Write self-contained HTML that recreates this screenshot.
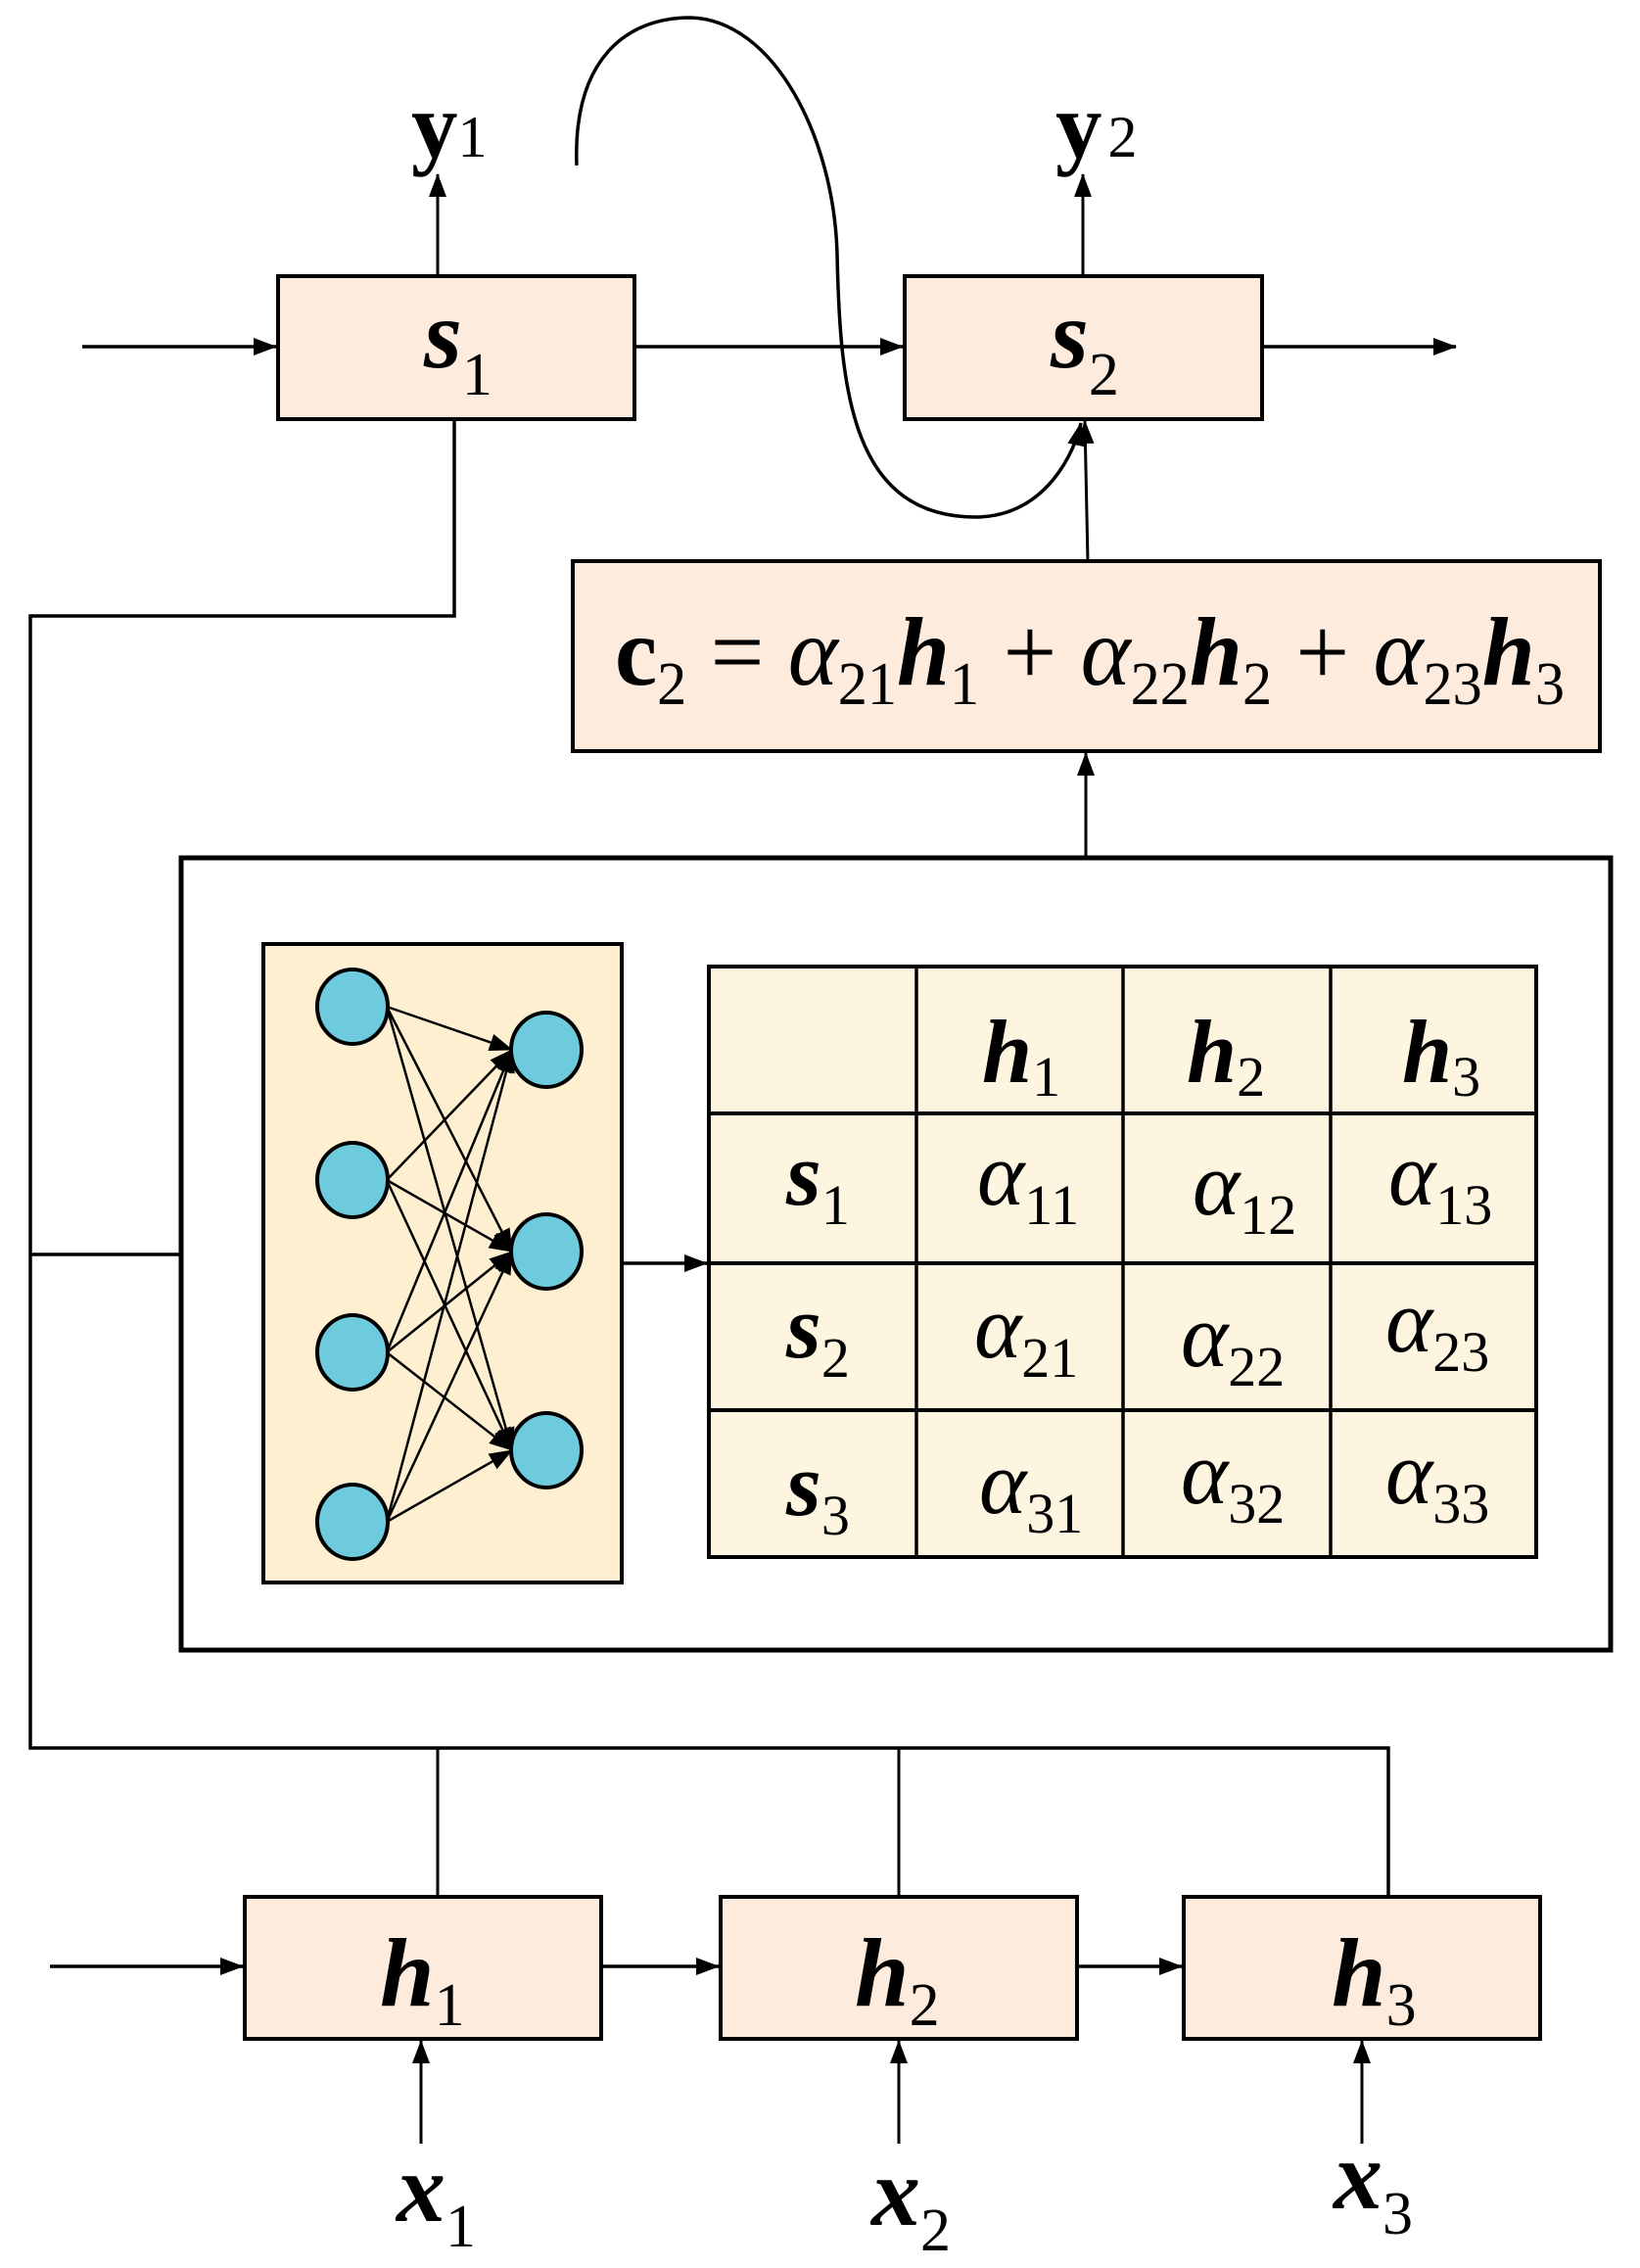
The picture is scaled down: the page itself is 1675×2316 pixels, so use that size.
<!DOCTYPE html>
<html><head><meta charset="utf-8"><style>
html,body{margin:0;padding:0;background:#fff}
svg{display:block}
text{font-family:"Liberation Serif",serif}
.b{font-weight:bold;font-style:italic}
.u{font-weight:bold}
.s{font-weight:normal;font-style:normal}
.a{font-style:italic}
</style></head><body>
<svg width="1675" height="2316" viewBox="0 0 1675 2316" xmlns="http://www.w3.org/2000/svg">
<defs>
<marker id="ar" markerWidth="10" markerHeight="10" refX="9" refY="5" orient="auto" markerUnits="userSpaceOnUse" viewBox="0 0 10 10">
<path d="M0,0 L10,5 L0,10 z" fill="#000"/></marker>
<marker id="ar2" markerWidth="24" markerHeight="18" refX="23" refY="9" orient="auto" markerUnits="userSpaceOnUse" viewBox="0 0 24 18">
<path d="M0,0 L24,9 L0,18 z" fill="#000"/></marker>
</defs>
<g stroke="#000" fill="none" stroke-width="3.5">
<!-- top boxes -->
<rect x="284" y="282" width="364" height="146" fill="#fdebdd" stroke-width="4"/>
<rect x="924" y="282" width="365" height="146" fill="#fdebdd" stroke-width="4"/>
<line x1="84" y1="354" x2="282" y2="354" marker-end="url(#ar2)"/>
<line x1="648" y1="354" x2="922" y2="354" marker-end="url(#ar2)"/>
<line x1="1289" y1="354" x2="1487" y2="354" marker-end="url(#ar2)"/>
<line x1="447" y1="282" x2="447" y2="178" stroke-width="3" marker-end="url(#ar2)"/>
<line x1="1106" y1="282" x2="1106" y2="178" stroke-width="3" marker-end="url(#ar2)"/>
<!-- curve -->
<path d="M589,169 C585,60 640,18 705,18 C790,20 852,140 855,260 C858,400 870,530 1000,528 C1070,525 1098,460 1104,432" stroke-width="3.5" marker-end="url(#ar2)"/>
<!-- c2 box -->
<rect x="585" y="573" width="1049" height="194" fill="#fdebdd" stroke-width="4"/>
<line x1="1111" y1="573" x2="1108" y2="430" stroke-width="3" marker-end="url(#ar2)"/>
<line x1="1109" y1="876" x2="1109" y2="769" stroke-width="3" marker-end="url(#ar2)"/>
<!-- big box -->
<rect x="185" y="876" width="1460" height="809" fill="#fff" stroke-width="5"/>
<!-- left connectors -->
<polyline points="464,428 464,629 31,629 31,1785 1418,1785 1418,1937" stroke-width="3.5"/>
<line x1="31" y1="1281" x2="185" y2="1281"/>
<line x1="447" y1="1785" x2="447" y2="1937" stroke-width="3"/>
<line x1="918" y1="1785" x2="918" y2="1937" stroke-width="3"/>
<!-- NN box -->
<rect x="269" y="964" width="366" height="652" fill="#fdefcf" stroke-width="4"/>
<g stroke-width="2.5">
<line x1="395" y1="1028" x2="523" y2="1072" marker-end="url(#ar2)"/>
<line x1="395" y1="1028" x2="523" y2="1278" marker-end="url(#ar2)"/>
<line x1="395" y1="1028" x2="523" y2="1481" marker-end="url(#ar2)"/>
<line x1="395" y1="1205" x2="523" y2="1072" marker-end="url(#ar2)"/>
<line x1="395" y1="1205" x2="523" y2="1278" marker-end="url(#ar2)"/>
<line x1="395" y1="1205" x2="523" y2="1481" marker-end="url(#ar2)"/>
<line x1="395" y1="1381" x2="523" y2="1072" marker-end="url(#ar2)"/>
<line x1="395" y1="1381" x2="523" y2="1278" marker-end="url(#ar2)"/>
<line x1="395" y1="1381" x2="523" y2="1481" marker-end="url(#ar2)"/>
<line x1="395" y1="1554" x2="523" y2="1072" marker-end="url(#ar2)"/>
<line x1="395" y1="1554" x2="523" y2="1278" marker-end="url(#ar2)"/>
<line x1="395" y1="1554" x2="523" y2="1481" marker-end="url(#ar2)"/>
</g>
<g fill="#6ecbdd" stroke-width="4">
<ellipse cx="360" cy="1028" rx="36" ry="38"/>
<ellipse cx="360" cy="1205" rx="36" ry="38"/>
<ellipse cx="360" cy="1381" rx="36" ry="38"/>
<ellipse cx="360" cy="1554" rx="36" ry="38"/>
<ellipse cx="558" cy="1072" rx="36" ry="38"/>
<ellipse cx="558" cy="1278" rx="36" ry="38"/>
<ellipse cx="558" cy="1481" rx="36" ry="38"/>
</g>
<line x1="635" y1="1290" x2="722" y2="1290" marker-end="url(#ar2)"/>
<!-- table -->
<rect x="724" y="987" width="845" height="603" fill="#fdf5df" stroke-width="4"/>
<line x1="936" y1="987" x2="936" y2="1590"/>
<line x1="1147" y1="987" x2="1147" y2="1590"/>
<line x1="1359" y1="987" x2="1359" y2="1590"/>
<line x1="724" y1="1137" x2="1569" y2="1137" stroke-width="4"/>
<line x1="724" y1="1290" x2="1569" y2="1290" stroke-width="4"/>
<line x1="724" y1="1440" x2="1569" y2="1440" stroke-width="4"/>
<!-- h boxes -->
<rect x="250" y="1937" width="364" height="145" fill="#fdebdd" stroke-width="4"/>
<rect x="736" y="1937" width="364" height="145" fill="#fdebdd" stroke-width="4"/>
<rect x="1209" y="1937" width="364" height="145" fill="#fdebdd" stroke-width="4"/>
<line x1="51" y1="2008" x2="248" y2="2008" marker-end="url(#ar2)"/>
<line x1="614" y1="2008" x2="734" y2="2008" marker-end="url(#ar2)"/>
<line x1="1100" y1="2008" x2="1207" y2="2008" marker-end="url(#ar2)"/>
<line x1="430" y1="2189" x2="430" y2="2084" stroke-width="3" marker-end="url(#ar2)"/>
<line x1="918" y1="2189" x2="918" y2="2084" stroke-width="3" marker-end="url(#ar2)"/>
<line x1="1391" y1="2189" x2="1391" y2="2084" stroke-width="3" marker-end="url(#ar2)"/>
</g>
<g fill="#000">
<text x="420" y="160" font-size="95" class="u">y<tspan class="s" font-size="60">1</tspan></text>
<text x="1078" y="160" font-size="95" class="u">y<tspan class="s" font-size="60" dx="6">2</tspan></text>
<text x="433" y="375" font-size="100" class="b">s<tspan class="s" font-size="62" dy="28">1</tspan></text>
<text x="1073" y="375" font-size="100" class="b">s<tspan class="s" font-size="62" dy="28">2</tspan></text>
<text x="628" y="699" font-size="100" textLength="970" lengthAdjust="spacingAndGlyphs"><tspan class="u">c</tspan><tspan font-size="62" dy="20">2</tspan><tspan dy="-20"> = </tspan><tspan class="a">α</tspan><tspan font-size="62" dy="20">21</tspan><tspan class="b" dy="-20">h</tspan><tspan font-size="62" dy="20">1</tspan><tspan dy="-20"> + </tspan><tspan class="a">α</tspan><tspan font-size="62" dy="20">22</tspan><tspan class="b" dy="-20">h</tspan><tspan font-size="62" dy="20">2</tspan><tspan dy="-20"> + </tspan><tspan class="a">α</tspan><tspan font-size="62" dy="20">23</tspan><tspan class="b" dy="-20">h</tspan><tspan font-size="62" dy="20">3</tspan></text>
<!-- table text -->
<g font-size="92">
<text x="1003" y="1105" class="b">h<tspan class="s" font-size="58" dy="14">1</tspan></text>
<text x="1212" y="1105" class="b">h<tspan class="s" font-size="58" dy="14">2</tspan></text>
<text x="1432" y="1105" class="b">h<tspan class="s" font-size="58" dy="14">3</tspan></text>
<text x="803" y="1230" class="b">s<tspan class="s" font-size="58" dy="20">1</tspan></text>
<text x="803" y="1386" class="b">s<tspan class="s" font-size="58" dy="20">2</tspan></text>
<text x="803" y="1547" class="b">s<tspan class="s" font-size="58" dy="20">3</tspan></text>
<text x="998" y="1230" class="a">α<tspan font-style="normal" font-size="58" dy="20">11</tspan></text>
<text x="1218" y="1240" class="a">α<tspan font-style="normal" font-size="58" dy="20">12</tspan></text>
<text x="1418" y="1230" class="a">α<tspan font-style="normal" font-size="58" dy="20">13</tspan></text>
<text x="995" y="1386" class="a">α<tspan font-style="normal" font-size="58" dy="20">21</tspan></text>
<text x="1206" y="1395" class="a">α<tspan font-style="normal" font-size="58" dy="20">22</tspan></text>
<text x="1415" y="1380" class="a">α<tspan font-style="normal" font-size="58" dy="20">23</tspan></text>
<text x="1000" y="1545" class="a">α<tspan font-style="normal" font-size="58" dy="20">31</tspan></text>
<text x="1206" y="1535" class="a">α<tspan font-style="normal" font-size="58" dy="20">32</tspan></text>
<text x="1415" y="1535" class="a">α<tspan font-style="normal" font-size="58" dy="20">33</tspan></text>
</g>
<text x="388" y="2048" font-size="100" class="b">h<tspan class="s" font-size="62" dy="20">1</tspan></text>
<text x="873" y="2048" font-size="100" class="b">h<tspan class="s" font-size="62" dy="20">2</tspan></text>
<text x="1360" y="2048" font-size="100" class="b">h<tspan class="s" font-size="62" dy="20">3</tspan></text>
<text x="405" y="2268" font-size="100" class="b">x<tspan class="s" font-size="62" dy="26">1</tspan></text>
<text x="890" y="2272" font-size="100" class="b">x<tspan class="s" font-size="62" dy="26">2</tspan></text>
<text x="1362" y="2255" font-size="100" class="b">x<tspan class="s" font-size="62" dy="26">3</tspan></text>
</g>
</svg>
</body></html>
